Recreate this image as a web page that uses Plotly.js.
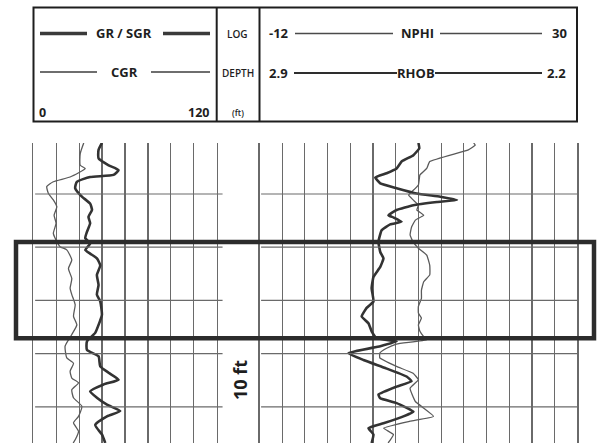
<!DOCTYPE html>
<html>
<head>
<meta charset="utf-8">
<script src="https://cdn.plot.ly/plotly-3.0.1.min.js"></script>
<style>html,body{margin:0;padding:0;background:#fff;}#chart{width:597px;height:443px;}</style>
</head>
<body>
<div id="chart"></div>
<script>
// ---------------- data (depth in ft, relative) ----------------
const depthCGR = [0.4, 2.4, 4.6, 5.2, 6.8, 7.7, 8.6, 9.9, 11.1, 12.4, 14.0, 15.5, 17.4, 18.3, 19.9, 20.5, 22.4, 24.0, 25.9, 27.7, 28.9, 30.8, 33.0, 34.6, 36.4, 38.6, 40.8, 41.8, 43.3, 44.6, 45.5, 46.8, 48.3, 49.9, 51.8, 53.0, 54.6, 56.2, 56.8];
const valCGR   = [33, 30.7, 30.7, 34.0, 24.1, 13.1, 8.8, 9.9, 13.1, 15.4, 13.6, 14.9, 13.1, 14.3, 17.5, 21.9, 25.2, 23.0, 25.2, 24.1, 25.2, 27.4, 26.3, 28.5, 25.2, 20.8, 21.9, 26.3, 24.1, 25.2, 29.6, 25.2, 26.3, 31.8, 29.6, 26.3, 29.6, 27.4, 26.1];

const depthGR = [0.4, 1.7, 3.3, 4.6, 5.5, 6.4, 6.8, 7.7, 8.9, 10.5, 11.8, 13.0, 14.3, 15.5, 17.1, 18.3, 19.3, 20.5, 21.2, 22.1, 23.4, 25.2, 27.1, 28.9, 30.2, 32.7, 34.6, 36.1, 37.7, 39.3, 40.5, 42.4, 43.6, 44.9, 45.8, 47.1, 48.3, 49.6, 50.8, 51.8, 53.4, 55.2, 56.8];
const valGR   = [44.9, 42.7, 42.7, 49.3, 55.8, 52.5, 37.2, 28.5, 27.4, 31.8, 37.2, 38.4, 36.1, 37.2, 35.1, 34.0, 37.2, 34.0, 37.2, 41.6, 43.8, 41.6, 42.7, 41.6, 43.8, 44.9, 42.7, 40.5, 35.1, 35.1, 42.7, 43.8, 49.3, 55.8, 46.0, 37.2, 41.6, 48.2, 56.9, 48.2, 40.5, 44.9, 47.1];

const depthRHOB = [0.4, 1.4, 2.7, 3.9, 5.2, 6.1, 6.9, 8.0, 8.9, 9.9, 10.5, 11.1, 11.5, 12.1, 13.0, 14.0, 14.4, 15.2, 15.7, 16.8, 19.0, 20.9, 22.1, 23.7, 25.6, 27.7, 30.2, 31.4, 33.0, 34.3, 35.8, 37.1, 37.7, 38.6, 39.9, 41.2, 42.7, 44.3, 45.2, 46.2, 47.7, 48.4, 49.3, 50.9, 51.8, 53.1, 54.0, 55.2, 56.8];
const valRHOB   = [2.550, 2.548, 2.561, 2.587, 2.598, 2.620, 2.645, 2.634, 2.598, 2.554, 2.502, 2.465, 2.509, 2.561, 2.598, 2.616, 2.605, 2.587, 2.612, 2.631, 2.638, 2.634, 2.627, 2.634, 2.649, 2.653, 2.649, 2.664, 2.675, 2.660, 2.653, 2.642, 2.598, 2.634, 2.704, 2.671, 2.623, 2.576, 2.565, 2.598, 2.638, 2.634, 2.598, 2.561, 2.583, 2.627, 2.660, 2.649, 2.653];

const depthNPHI = [0.4, 0.8, 1.7, 3.9, 5.2, 6.4, 8.3, 9.6, 10.2, 11.1, 12.1, 13.0, 14.0, 14.9, 16.2, 17.7, 19.0, 20.2, 21.5, 23.4, 25.2, 26.5, 28.1, 29.6, 31.1, 32.4, 33.3, 34.6, 35.8, 36.8, 37.4, 38.2, 39.0, 39.9, 40.8, 42.4, 43.7, 44.9, 46.5, 49.0, 51.8, 52.7, 54.0, 55.2, 56.8];
const valNPHI   = [16.3, 16.5, 15.6, 10.5, 10.1, 9.2, 9.0, 8.1, 7.7, 8.3, 9.0, 8.8, 9.7, 8.6, 8.1, 7.9, 8.3, 9.0, 10.1, 10.5, 10.5, 9.7, 9.4, 9.4, 9.0, 9.0, 9.4, 9.0, 9.2, 9.7, 10.1, 6.1, 4.8, 3.9, 3.9, 6.1, 8.3, 9.0, 7.9, 8.6, 11.0, 7.9, 4.4, 5.7, 5.0];

// scales and labels
const grRange   = [0, 120];
const nphiRange = [-12, 30];
const rhobRange = [2.9, 2.2];
const depthRange = [56.8, 0.41];
const gridDepths = [10, 20, 30, 40, 50];
const zoneTop = 19.0, zoneBase = 37.1;
const labels = {gr: "GR / SGR", cgr: "CGR", nphi: "NPHI", rhob: "RHOB", log: "LOG", depth: "DEPTH", ft: "(ft)", ten: "10 ft"};

// --------------- layout helpers (pixel -> paper) ---------------
const W = 597, H = 443;
const PX = x => x / W;
const PY = y => 1 - y / H;
const GRID = '#6a6a6a';
const INK = '#1e1e1e';
const FAM = 'Open Sans, Noto Sans, Liberation Sans, sans-serif';

const traces = [
  {x: valCGR, y: depthCGR, xaxis: 'x', yaxis: 'y', mode: 'lines', line: {color: '#5a5a5a', width: 1.3, shape: 'spline', smoothing: 0.5}, name: 'CGR'},
  {x: valGR, y: depthGR, xaxis: 'x', yaxis: 'y', mode: 'lines', line: {color: '#333', width: 2.6, shape: 'spline', smoothing: 0.5}, name: 'GR/SGR'},
  {x: valNPHI, y: depthNPHI, xaxis: 'x2', yaxis: 'y2', mode: 'lines', line: {color: '#5a5a5a', width: 1.3, shape: 'spline', smoothing: 0.35}, name: 'NPHI'},
  {x: valRHOB, y: depthRHOB, xaxis: 'x3', yaxis: 'y2', mode: 'lines', line: {color: '#333', width: 2.6, shape: 'spline', smoothing: 0.35}, name: 'RHOB'}
];

const shapes = [];
// header box and dividers
shapes.push({type: 'rect', xref: 'paper', yref: 'paper', x0: PX(33.5), x1: PX(577), y0: PY(7.5), y1: PY(121.5), line: {color: INK, width: 2}});
shapes.push({type: 'line', xref: 'paper', yref: 'paper', x0: PX(216.7), x1: PX(216.7), y0: PY(7.5), y1: PY(121.5), line: {color: INK, width: 2}});
shapes.push({type: 'line', xref: 'paper', yref: 'paper', x0: PX(259.5), x1: PX(259.5), y0: PY(7.5), y1: PY(121.5), line: {color: INK, width: 2}});
// header legend lines
const hl = (x0, x1, y, w, c) => shapes.push({type: 'line', xref: 'paper', yref: 'paper', x0: PX(x0), x1: PX(x1), y0: PY(y), y1: PY(y), line: {color: c, width: w}});
hl(40, 87, 33.5, 3.5, '#3a3a3a'); hl(163, 210, 33.5, 3.5, '#3a3a3a');
hl(40, 97, 72, 2.2, '#6e6e6e'); hl(151, 210, 72, 2.2, '#6e6e6e');
hl(295, 393, 33.5, 1.4, '#4a4a4a'); hl(440, 542, 33.5, 1.4, '#4a4a4a');
hl(294, 397, 73, 2.2, '#2e2e2e'); hl(435, 542, 73, 2.2, '#2e2e2e');
// horizontal depth grid lines
gridDepths.forEach(d => {
  shapes.push({type: 'line', xref: 'x domain', yref: 'y', x0: 0.01, x1: 1.032, y0: d, y1: d, line: {color: GRID, width: 1.2}});
  shapes.push({type: 'line', xref: 'x2 domain', yref: 'y2', x0: 0.005, x1: 1, y0: d, y1: d, line: {color: GRID, width: 1.2}});
});
// zone rectangle
shapes.push({type: 'rect', xref: 'paper', yref: 'y', x0: PX(16), x1: PX(594), y0: zoneTop, y1: zoneBase, line: {color: '#2c2c2c', width: 4.5}, layer: 'above'});

const ann = (text, x, y, xa, size, weight, extra) => Object.assign({
  text: text, xref: 'paper', yref: 'paper', x: PX(x), y: PY(y), xanchor: xa, yanchor: 'middle',
  showarrow: false, font: {family: FAM, size: size, color: INK, weight: weight}
}, extra || {});

const annotations = [
  ann(labels.gr, 124.5, 33.5, 'center', 13, 700),
  ann(labels.cgr, 124, 72, 'center', 13, 700),
  ann(String(grRange[0]), 36.5, 112, 'left', 12.5, 700),
  ann(String(grRange[1]), 211, 112, 'right', 12.5, 700),
  ann(labels.log, 237.8, 34, 'center', 10, 600),
  ann(labels.depth, 237.8, 72.5, 'center', 10, 600),
  ann(labels.ft, 237.8, 113, 'center', 8.5, 600),
  ann(String(nphiRange[0]), 267, 33.5, 'left', 13, 700),
  ann(labels.nphi, 417.5, 33.5, 'center', 13, 700),
  ann(String(nphiRange[1]), 569, 33.5, 'right', 13, 700),
  ann(rhobRange[0].toFixed(1), 267, 73, 'left', 13, 700),
  ann(labels.rhob, 415.5, 73, 'center', 13, 700),
  ann(rhobRange[1].toFixed(1), 568, 73, 'right', 13, 700),
  ann(labels.ten, 239.5, 380.5, 'center', 18, 700, {textangle: -90})
];

const axCommon = {showticklabels: false, ticks: '', zeroline: false, fixedrange: true};
const layout = {
  width: W, height: H,
  margin: {l: 0, r: 0, t: 0, b: 0},
  paper_bgcolor: '#fff', plot_bgcolor: 'rgba(0,0,0,0)',
  showlegend: false,
  font: {family: FAM},
  xaxis: Object.assign({}, axCommon, {domain: [PX(33.3), PX(216.7)], range: grRange, anchor: 'y', showgrid: true, tick0: 0, dtick: 15, gridcolor: GRID, gridwidth: 1.2, showline: false}),
  yaxis: Object.assign({}, axCommon, {domain: [0, PY(143)], range: depthRange, anchor: 'x', showgrid: false, showline: true, mirror: true, linecolor: GRID, linewidth: 1.3}),
  xaxis2: Object.assign({}, axCommon, {domain: [PX(259.5), PX(577.3)], range: nphiRange, anchor: 'y2', showgrid: true, tick0: -12, dtick: 3, gridcolor: GRID, gridwidth: 1.2, showline: false}),
  xaxis3: Object.assign({}, axCommon, {range: rhobRange, anchor: 'y2', overlaying: 'x2', visible: false, showgrid: false}),
  yaxis2: Object.assign({}, axCommon, {domain: [0, PY(143)], range: depthRange, anchor: 'x2', showgrid: false, showline: true, mirror: true, linecolor: GRID, linewidth: 1.3}),
  shapes: shapes,
  annotations: annotations
};

Plotly.newPlot('chart', traces, layout, {staticPlot: true, displayModeBar: false});
</script>
</body>
</html>
